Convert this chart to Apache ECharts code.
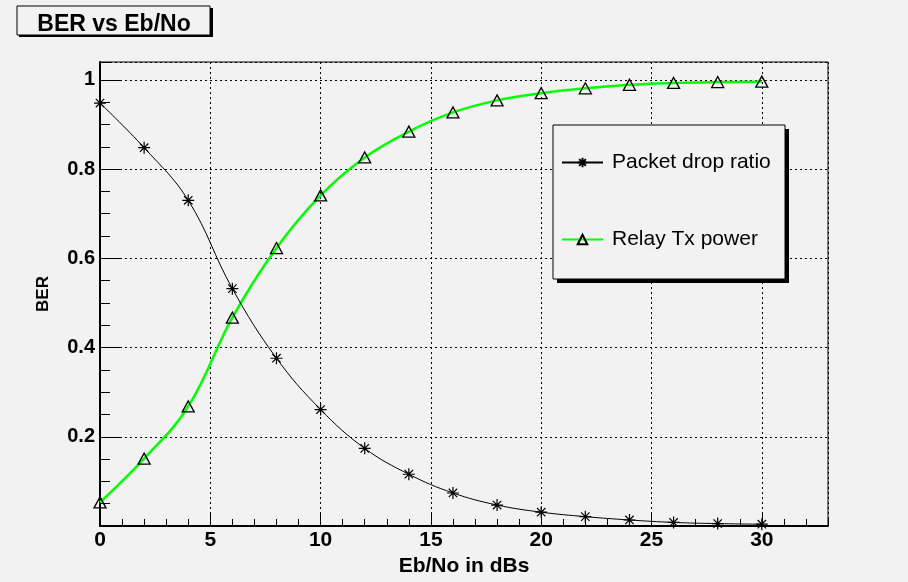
<!DOCTYPE html>
<html>
<head>
<meta charset="utf-8">
<title>BER vs Eb/No</title>
<script src="https://cdn.jsdelivr.net/npm/echarts@6/dist/echarts.min.js"></script>
<style>
  html, body { margin: 0; padding: 0; background: #f2f2f2; }
  #chart { width: 908px; height: 582px; }
</style>
</head>
<body>
<div id="chart"></div>
<script>
// Eb/No sample points (dB)
const ebno = [0, 2, 4, 6, 8, 10, 12, 14, 16, 18, 20, 22, 24, 26, 28, 30];
// Packet drop ratio at each Eb/No
const packetDrop = [0.948, 0.848, 0.730, 0.532, 0.376, 0.261, 0.174, 0.116, 0.074, 0.047, 0.031, 0.021, 0.0135, 0.008, 0.0054, 0.004];
// Relay Tx power at each Eb/No
const relayTx = [0.053, 0.151, 0.268, 0.467, 0.623, 0.741, 0.826, 0.884, 0.927, 0.954, 0.970, 0.981, 0.989, 0.993, 0.995, 0.996];

const seriesNames = ['Packet drop ratio', 'Relay Tx power'];
const titleText = 'BER vs Eb/No';
const xTitle = 'Eb/No in dBs';
const yTitle = 'BER';

const FONT = '"Liberation Sans", Arial, Helvetica, sans-serif';
const BG = '#f2f2f2';

// eight-armed star marker
const starPath = 'path://M5 0 L5 10 M0 5 L10 5 M1.5 1.5 L8.5 8.5 M1.5 8.5 L8.5 1.5';

const pairs = (ys) => ebno.map((x, i) => [x, ys[i]]);

const chart = echarts.init(document.getElementById('chart'), null, { renderer: 'canvas' });

const option = {
  backgroundColor: BG,
  animation: false,
  grid: {
    left: 100, top: 62, right: 80, bottom: 56,
    show: true, borderColor: '#000', borderWidth: 1, backgroundColor: 'transparent'
  },
  graphic: [
    // title box with drop shadow
    { type: 'rect', z: 3, shape: { x: 19, y: 8, width: 194, height: 29 }, style: { fill: '#000' } },
    { type: 'rect', z: 3, shape: { x: 17, y: 6, width: 193, height: 29 }, style: { fill: BG, stroke: '#000', lineWidth: 1 } },
    { type: 'text', z: 4, x: 114, y: 25, style: { text: titleText, font: 'bold 23px ' + FONT, fill: '#000', align: 'center', verticalAlign: 'middle' } },
    // legend box with drop shadow
    { type: 'rect', z: 3, shape: { x: 557, y: 129, width: 232, height: 154 }, style: { fill: '#000' } },
    { type: 'rect', z: 3, shape: { x: 553, y: 125, width: 232, height: 154 }, style: { fill: BG, stroke: '#000', lineWidth: 1 } }
  ],
  legend: {
    z: 10,
    orient: 'vertical',
    left: 561, top: 152,
    padding: 0,
    itemGap: 56,
    itemWidth: 41,
    itemHeight: 12,
    data: seriesNames,
    textStyle: { fontFamily: FONT, fontSize: 21, color: '#000', padding: [0, 0, 0, 4] }
  },
  xAxis: [
    {
      type: 'value', min: 0, max: 33, interval: 5,
      name: xTitle, nameLocation: 'middle', nameGap: 30,
      nameTextStyle: { fontFamily: FONT, fontSize: 21, fontWeight: 'bold', color: '#000' },
      axisLine: { show: true, onZero: false, lineStyle: { color: '#000', width: 2 } },
      axisTick: { show: true, inside: true, length: 13, lineStyle: { color: '#000', width: 1 } },
      axisLabel: { show: true, margin: 4, fontFamily: FONT, fontSize: 21, fontWeight: 'bold', color: '#000', showMaxLabel: false },
      splitLine: { show: true, lineStyle: { color: '#000', width: 1, type: [2, 3] } }
    },
    {
      // minor ticks every 1 dB
      type: 'value', min: 0, max: 33, interval: 1, position: 'bottom', offset: 0,
      axisLine: { show: false },
      axisTick: { show: true, inside: true, length: 7, lineStyle: { color: '#000', width: 1 } },
      axisLabel: { show: false },
      splitLine: { show: false }
    }
  ],
  yAxis: [
    {
      type: 'value', min: 0, max: 1.04, interval: 0.2,
      name: yTitle, nameLocation: 'middle', nameGap: 48,
      nameTextStyle: { fontFamily: FONT, fontSize: 17, fontWeight: 'bold', color: '#000' },
      axisLine: { show: true, onZero: false, lineStyle: { color: '#000', width: 2 } },
      axisTick: { show: true, inside: true, length: 20, lineStyle: { color: '#000', width: 1 } },
      axisLabel: {
        show: true, margin: 5, fontFamily: FONT, fontSize: 20, fontWeight: 'bold', color: '#000',
        showMaxLabel: false,
        formatter: (v) => (v === 0 ? '' : String(Math.round(v * 10) / 10))
      },
      splitLine: { show: true, lineStyle: { color: '#000', width: 1, type: [2, 3] } }
    },
    {
      // minor ticks every 0.05
      type: 'value', min: 0, max: 1.04, interval: 0.05, position: 'left', offset: 0,
      axisLine: { show: false },
      axisTick: { show: true, inside: true, length: 10, lineStyle: { color: '#000', width: 1 } },
      axisLabel: { show: false },
      splitLine: { show: false }
    }
  ],
  series: [
    {
      name: seriesNames[0],
      type: 'line',
      xAxisIndex: 0, yAxisIndex: 0,
      data: pairs(packetDrop),
      smooth: 0.4,
      symbol: starPath,
      symbolSize: 12,
      showAllSymbol: true,
      lineStyle: { color: '#000', width: 1 },
      itemStyle: { color: '#000', borderColor: '#000', borderWidth: 1.2 },
      z: 3
    },
    {
      name: seriesNames[1],
      type: 'line',
      xAxisIndex: 0, yAxisIndex: 0,
      data: pairs(relayTx),
      smooth: 0.4,
      symbol: 'triangle',
      symbolSize: [12, 11],
      showAllSymbol: true,
      lineStyle: { color: '#00ff00', width: 2.5 },
      itemStyle: { color: 'rgba(0,0,0,0)', borderColor: '#000', borderWidth: 1.3 },
      z: 2
    }
  ]
};

chart.setOption(option);
</script>
</body>
</html>
